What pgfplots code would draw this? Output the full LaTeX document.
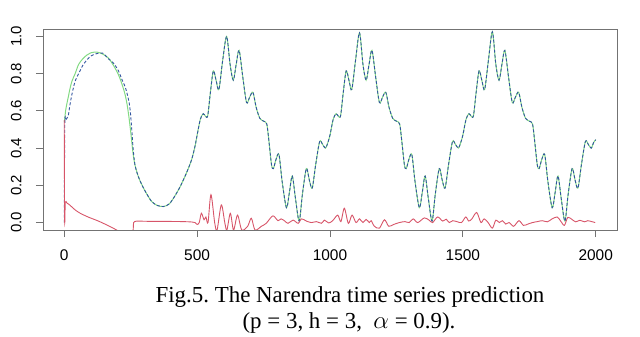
\documentclass[border=0pt]{standalone}
\usepackage{pgfplots}
\pgfplotsset{compat=1.18}
\usepackage{pgfplotstable}
\usepackage{fontspec}
\setmainfont{Liberation Serif}
\newfontfamily\arial{Liberation Sans}

\definecolor{actual}{RGB}{130,218,130}
\definecolor{pred}{RGB}{50,85,160}
\definecolor{err}{RGB}{215,85,105}
\definecolor{frame}{RGB}{115,115,115}

% x, actual, predicted
\pgfplotstableread{
x y yhat
0 0.54 0.00
2 0.56 0.53
5 0.60 0.55
10 0.64 0.56
16 0.68 0.58
20 0.71 0.62
29 0.76 0.69
41 0.80 0.76
54 0.85 0.80
70 0.88 0.845
85 0.90 0.873
100 0.912 0.895
123 0.916 0.908
145 0.905 0.91
166 0.884 0.88
185 0.845 0.857
204 0.794 0.815
218 0.74 0.765
229 0.687 0.73
237 0.63 0.69
244 0.56 0.645
249 0.50 0.59
254 0.435 0.50
259 0.37 0.40
266 0.31 0.31
278 0.25 0.25
292 0.203 0.203
310 0.155 0.155
329 0.113 0.113
350 0.092 0.092
373 0.086 0.086
395 0.10 0.10
415 0.14 0.14
435 0.19 0.19
458 0.26 0.26
479 0.337 0.337
492 0.41 0.41
500 0.47 0.47
512 0.555 0.555
523 0.585 0.585
532 0.57 0.57
540 0.575 0.575
550 0.70 0.70
561 0.815 0.815
572 0.76 0.76
582 0.715 0.715
596 0.87 0.87
611 1.00 1.00
624 0.85 0.85
636 0.765 0.765
647 0.85 0.85
658 0.925 0.925
672 0.78 0.78
686 0.645 0.645
698 0.675 0.675
710 0.70 0.70
722 0.62 0.62
736 0.56 0.56
750 0.545 0.545
762 0.53 0.53
770 0.44 0.44
780 0.31 0.31
787 0.29 0.29
797 0.34 0.34
808 0.365 0.365
820 0.22 0.22
836 0.08 0.08
847 0.16 0.16
858 0.25 0.25
870 0.13 0.13
884 0.008 0.008
896 0.15 0.15
911 0.29 0.29
922 0.23 0.23
933 0.185 0.185
946 0.31 0.31
961 0.435 0.435
972 0.42 0.42
983 0.40 0.40
992 0.43 0.43
1000 0.47 0.47
1012 0.555 0.555
1023 0.585 0.585
1032 0.57 0.57
1040 0.575 0.575
1050 0.70 0.70
1061 0.815 0.815
1072 0.76 0.76
1082 0.715 0.715
1096 0.87 0.87
1111 1.02 1.02
1124 0.85 0.85
1136 0.765 0.765
1147 0.85 0.85
1158 0.925 0.925
1172 0.78 0.78
1186 0.645 0.645
1198 0.675 0.675
1210 0.70 0.70
1222 0.62 0.62
1236 0.56 0.56
1250 0.545 0.545
1262 0.53 0.53
1270 0.44 0.44
1280 0.31 0.31
1287 0.29 0.29
1297 0.34 0.34
1308 0.365 0.365
1320 0.22 0.22
1336 0.08 0.08
1347 0.16 0.16
1358 0.25 0.25
1370 0.13 0.13
1384 0.008 0.008
1396 0.15 0.15
1411 0.29 0.29
1422 0.23 0.23
1433 0.185 0.185
1446 0.31 0.31
1461 0.435 0.435
1472 0.42 0.42
1483 0.40 0.40
1492 0.43 0.43
1500 0.47 0.47
1512 0.555 0.555
1523 0.585 0.585
1532 0.57 0.57
1540 0.575 0.575
1550 0.70 0.70
1561 0.815 0.815
1572 0.76 0.76
1582 0.715 0.715
1596 0.87 0.87
1611 1.025 1.025
1624 0.85 0.85
1636 0.765 0.765
1647 0.85 0.85
1658 0.925 0.925
1672 0.78 0.78
1686 0.645 0.645
1698 0.675 0.675
1710 0.70 0.70
1722 0.62 0.62
1736 0.56 0.56
1750 0.545 0.545
1762 0.53 0.53
1770 0.44 0.44
1780 0.31 0.31
1787 0.29 0.29
1797 0.34 0.34
1808 0.365 0.365
1820 0.22 0.22
1836 0.08 0.08
1847 0.16 0.16
1858 0.25 0.25
1870 0.13 0.13
1884 0.008 0.008
1896 0.15 0.15
1911 0.29 0.29
1922 0.23 0.23
1933 0.185 0.185
1946 0.31 0.31
1961 0.435 0.435
1972 0.42 0.42
1983 0.40 0.40
1992 0.43 0.43
2000 0.445 0.445
}\series

% prediction error
\pgfplotstableread{
x e
0 0.55
1.5 0.01
4 0.11
10 0.105
20 0.095
41 0.068
60 0.05
91 0.029
120 0.013
141 0.0
170 -0.02
197 -0.04
215 -0.06
245 -0.06
258 -0.05
261 0.0
266 0.006
280 0.008
300 0.007
350 0.006
400 0.006
450 0.005
480 0.003
492 0.0
500 -0.01
508 0.0
516 0.05
526 0.015
533 0.03
541 0.0
552 0.15
566 0.0
575 -0.04
591 0.095
604 0.0
612 -0.04
625 0.05
637 -0.04
652 0.04
668 -0.04
690 -0.02
704 0.023
718 -0.04
742 -0.02
760 -0.004
785 0.036
804 0.01
816 0.02
830 0.008
842 -0.004
861 0.013
880 -0.004
893 0.02
911 0.008
930 0.0
949 0.005
968 -0.004
979 0.013
995 -0.002
1010 0.01
1029 0.04
1041 0.005
1054 0.077
1069 -0.004
1083 0.04
1098 0.0
1111 0.02
1124 0.0
1136 0.017
1148 0.0
1155 0.01
1167 -0.02
1186 -0.03
1205 0.015
1221 -0.02
1240 -0.01
1261 0.0
1282 0.005
1298 0.0
1313 0.02
1330 0.0
1355 0.025
1373 0.013
1386 0.0
1405 0.03
1424 0.008
1437 0.018
1449 0.0
1462 0.01
1480 0.004
1495 0.0
1511 0.03
1522 0.008
1534 0.02
1552 0.054
1568 0.0
1580 0.02
1595 0.0
1611 -0.03
1624 0.013
1637 0.0
1649 0.01
1661 -0.008
1674 0.0
1691 -0.02
1711 0.01
1728 -0.015
1745 -0.008
1762 0.0
1780 0.005
1799 0.01
1818 0.004
1836 0.02
1855 0.03
1868 0.008
1882 -0.015
1895 0.028
1912 0.015
1925 0.004
1940 0.012
1958 0.004
1970 0.01
1985 0.005
1998 0.0
}\errors

\begin{document}
\frenchspacing
\begin{tikzpicture}
\path[use as bounding box] (0,0) rectangle (640bp,337bp);
\begin{axis}[
  at={(43bp,107bp)}, anchor=south west,
  scale only axis, width=574bp, height=201bp,
  xmin=-80, xmax=2080, ymin=-0.04, ymax=1.04,
  xtick={0,500,...,2000}, ytick={0,0.2,...,1.0},
  axis line style={frame, line width=0.8pt},
  tick align=outside, major tick length=7bp,
  tick style={frame, line width=0.8pt},
  xtick pos=bottom, ytick pos=left,
  /pgf/number format/assume math mode=true,
  /pgf/number format/1000 sep={},
  yticklabel shift=11bp, xticklabel shift=9bp,
  yticklabel style={/pgf/number format/fixed, /pgf/number format/fixed zerofill,
    /pgf/number format/precision=1, rotate=90, anchor=south,
    font=\arial\fontsize{15}{15}\selectfont},
  xticklabel style={font=\arial\fontsize{15.5}{15.5}\selectfont},
]
\addplot[actual, line width=1pt, smooth] table[x=x, y=y] {\series};
\addplot[pred, line width=0.9pt, dash pattern=on 3pt off 2pt, smooth] table[x=x, y=yhat] {\series};
\addplot[err, line width=0.9pt, smooth] table[x=x, y=e] {\errors};
\end{axis}
\node[font=\fontsize{23}{23}\selectfont, anchor=base] at (350bp,35bp)
  {Fig.5. The Narendra time series prediction};
\node[font=\fontsize{23}{23}\selectfont, anchor=base] at (349bp,9bp)
  {(p = 3, h = 3,\ \ $\alpha$ = 0.9).};
\end{tikzpicture}
\end{document}
